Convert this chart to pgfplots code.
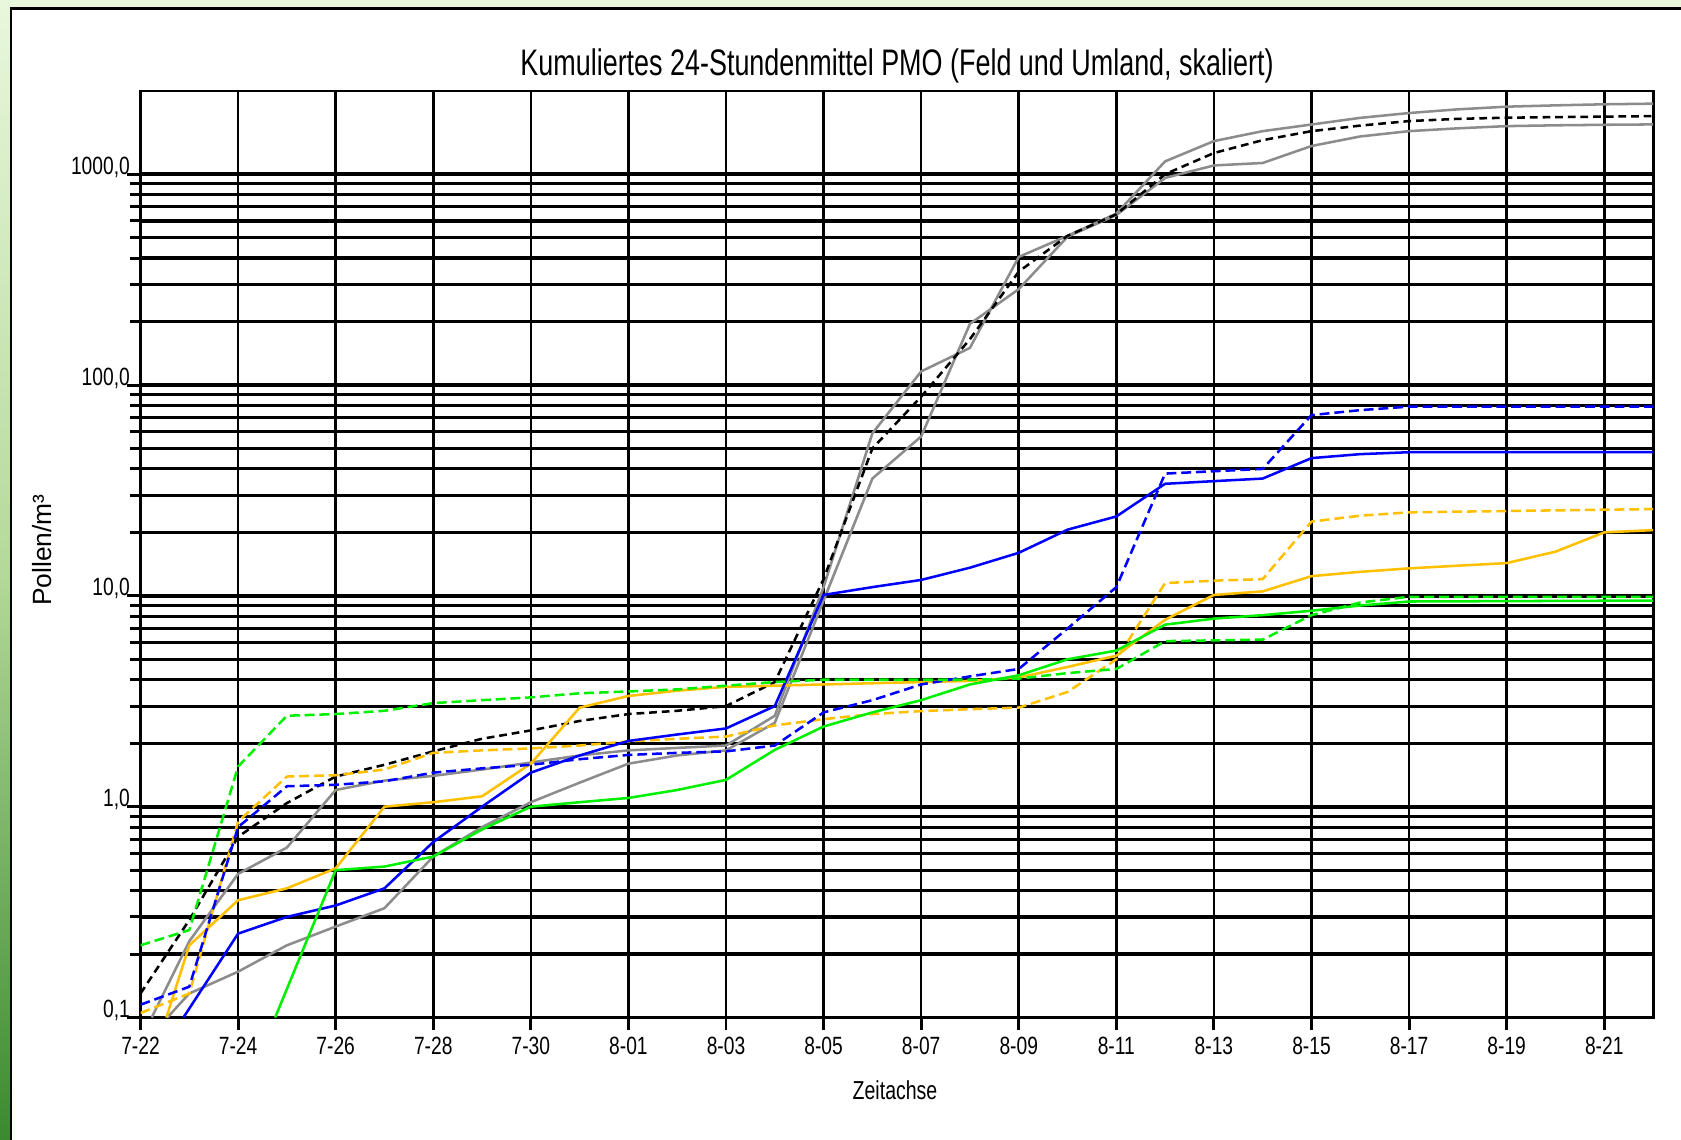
\documentclass[border=0pt]{standalone}
\usepackage{fontspec}
\setmainfont{Liberation Sans}
\newfontfamily\tickfont[FakeStretch=0.77]{Liberation Sans}
\newfontfamily\titlefont[FakeStretch=0.73]{Liberation Sans}
\newfontfamily\labfont[FakeStretch=0.75]{Liberation Sans}
\usepackage{pgfplots}
\pgfplotsset{compat=1.18}
\definecolor{grayline}{RGB}{140,140,140}
\definecolor{bluel}{RGB}{0,0,255}
\definecolor{orangel}{RGB}{255,192,0}
\definecolor{greenl}{RGB}{0,240,0}
\definecolor{bgtop}{RGB}{233,247,221}
\definecolor{bgmid}{RGB}{181,217,154}
\definecolor{bgbot}{RGB}{59,138,47}
\begin{document}
\begin{tikzpicture}
\useasboundingbox (0,0) rectangle (16.81,11.39);
\fill[bgtop] (0,0) rectangle (16.81,11.39);
\shade[top color=bgtop, bottom color=bgbot, middle color=bgmid] (0,0) rectangle (0.11,11.39);
\filldraw[fill=white, draw=black, line width=0.85pt] (0.11,-0.5) rectangle (17.5,11.305);
\begin{axis}[
  at={(1.405cm,1.215cm)}, anchor=south west,
  scale only axis, width=15.125cm, height=9.265cm,
  xmin=0, xmax=31, ymode=log, ymin=0.1, ymax=2480,
  axis line style={line width=0.85pt},
  xtick={0,2,...,30},
  xticklabels={7-22,7-24,7-26,7-28,7-30,8-01,8-03,8-05,8-07,8-09,8-11,8-13,8-15,8-17,8-19,8-21},
  ytick={0.1,1,10,100,1000},
  yticklabels={{0,1},{1,0},{10,0},{100,0},{1000,0}},
  minor ytick={0.2,0.3,0.4,0.5,0.6,0.7,0.8,0.9,2,3,4,5,6,7,8,9,20,30,40,50,60,70,80,90,200,300,400,500,600,700,800,900},
  xmajorgrids, ymajorgrids, yminorgrids,
  major x grid style={black, line width=0.75pt},
  major y grid style={black, line width=1.1pt},
  minor y grid style={black, line width=0.9pt},
  tick align=outside, tick pos=left,
  major tick length=0.13cm, minor tick length=0.1cm,
  tick style={black, line width=0.85pt},
  xticklabel style={font=\tickfont\fontsize{7.1}{8}\selectfont, inner sep=0pt, anchor=north, yshift=-0.055cm},
  yticklabel style={font=\tickfont\fontsize{7.1}{8}\selectfont, inner sep=0pt, anchor=base east, xshift=0.03cm},
  no markers,
  every axis plot/.append style={line width=0.72pt, line join=round},
]
% gray A
\addplot[grayline] coordinates {(0.23,0.1) (1,0.23) (2,0.48) (3,0.64) (4,1.2) (5,1.33) (6,1.4) (7,1.5) (8,1.62) (9,1.75) (10,1.85) (11,1.9) (12,1.95) (13,2.7) (14,11) (15,59) (16,116) (17,150) (18,405) (19,510) (20,650) (21,1150) (22,1435) (23,1600) (24,1720) (25,1850) (26,1950) (27,2030) (28,2090) (29,2120) (30,2145) (31,2160)};
% gray B
\addplot[grayline] coordinates {(0.55,0.1) (1,0.13) (2,0.165) (3,0.22) (4,0.27) (5,0.33) (6,0.58) (7,0.8) (8,1.05) (9,1.3) (10,1.6) (11,1.75) (12,1.85) (13,2.5) (14,9.5) (15,36) (16,57) (17,195) (18,285) (19,505) (20,640) (21,960) (22,1100) (23,1130) (24,1360) (25,1510) (26,1600) (27,1650) (28,1690) (29,1705) (30,1715) (31,1722)};
% black dashed
\addplot[black, dash pattern=on 2.2pt off 1.4pt] coordinates {(0,0.13) (1,0.29) (2,0.72) (3,1.04) (4,1.39) (5,1.58) (6,1.83) (7,2.1) (8,2.3) (9,2.55) (10,2.75) (11,2.85) (12,3.0) (13,3.9) (14,12) (15,50) (16,88) (17,165) (18,345) (19,510) (20,645) (21,1000) (22,1260) (23,1450) (24,1600) (25,1700) (26,1786) (27,1830) (28,1853) (29,1865) (30,1875) (31,1885)};
% orange solid
\addplot[orangel] coordinates {(0.53,0.1) (1,0.22) (2,0.36) (3,0.41) (4,0.51) (5,1.0) (6,1.05) (7,1.12) (8,1.6) (9,2.95) (10,3.35) (11,3.55) (12,3.7) (13,3.75) (14,3.8) (15,3.85) (16,3.9) (17,3.95) (18,4.1) (19,4.6) (20,5.2) (21,7.7) (22,10.1) (23,10.5) (24,12.4) (25,13) (26,13.5) (27,13.9) (28,14.3) (29,16.2) (30,20) (31,20.5)};
% orange dashed
\addplot[orangel, dash pattern=on 2.8pt off 1.4pt] coordinates {(0,0.105) (1,0.13) (2,0.85) (3,1.39) (4,1.41) (5,1.5) (6,1.8) (7,1.85) (8,1.89) (9,1.95) (10,2.04) (11,2.1) (12,2.15) (13,2.43) (14,2.6) (15,2.75) (16,2.84) (17,2.9) (18,2.95) (19,3.5) (20,5.0) (21,11.5) (22,11.8) (23,12) (24,22.5) (25,24) (26,24.9) (31,25.8)};
% blue solid
\addplot[bluel] coordinates {(0.88,0.1) (2,0.25) (3,0.30) (4,0.34) (5,0.41) (6,0.68) (7,1.0) (8,1.45) (9,1.75) (10,2.05) (11,2.2) (12,2.35) (13,3.0) (14,10.1) (15,11) (16,11.9) (17,13.6) (18,16) (19,20.6) (20,23.8) (21,34) (22,35) (23,36) (24,45) (25,47) (26,48) (31,48)};
% blue dashed
\addplot[bluel, dash pattern=on 2.8pt off 1.4pt] coordinates {(0,0.115) (1,0.14) (2,0.8) (3,1.25) (4,1.27) (5,1.32) (6,1.45) (7,1.52) (8,1.58) (9,1.68) (10,1.76) (11,1.8) (12,1.83) (13,1.95) (14,2.8) (15,3.2) (16,3.8) (17,4.15) (18,4.5) (19,7.0) (20,11) (21,38) (22,39) (23,40) (24,72) (25,76) (26,79) (31,79)};
% green solid
\addplot[greenl] coordinates {(2.76,0.1) (4,0.5) (5,0.52) (6,0.58) (7,0.78) (8,1.0) (9,1.05) (10,1.1) (11,1.2) (12,1.34) (13,1.86) (14,2.4) (15,2.8) (16,3.2) (17,3.8) (18,4.2) (19,5.0) (20,5.5) (21,7.3) (22,7.8) (23,8.1) (24,8.5) (25,9.0) (26,9.4) (31,9.5)};
% green dashed
\addplot[greenl, dash pattern=on 2.8pt off 1.4pt] coordinates {(0,0.22) (1,0.26) (2,1.55) (3,2.7) (4,2.75) (5,2.85) (6,3.1) (7,3.2) (8,3.3) (9,3.45) (10,3.52) (11,3.6) (12,3.75) (13,3.9) (14,4.0) (15,4.0) (16,4.0) (17,4.0) (18,4.05) (19,4.3) (20,4.5) (21,6.1) (22,6.15) (23,6.2) (24,8.1) (25,9.3) (26,9.9) (31,9.9)};
\end{axis}
\node[font=\titlefont\fontsize{10.5}{12}\selectfont, anchor=base, inner sep=0pt] at (8.97,10.64) {Kumuliertes 24-Stundenmittel PMO (Feld und Umland, skaliert)};
\node[font=\labfont\fontsize{7.4}{9}\selectfont, anchor=base, inner sep=0pt] at (8.95,0.40) {Zeitachse};
\node[font=\fontsize{7.5}{9}\selectfont, rotate=90, anchor=base, inner sep=0pt] at (0.515,5.89) {Pollen/m³};
\end{tikzpicture}
\end{document}
